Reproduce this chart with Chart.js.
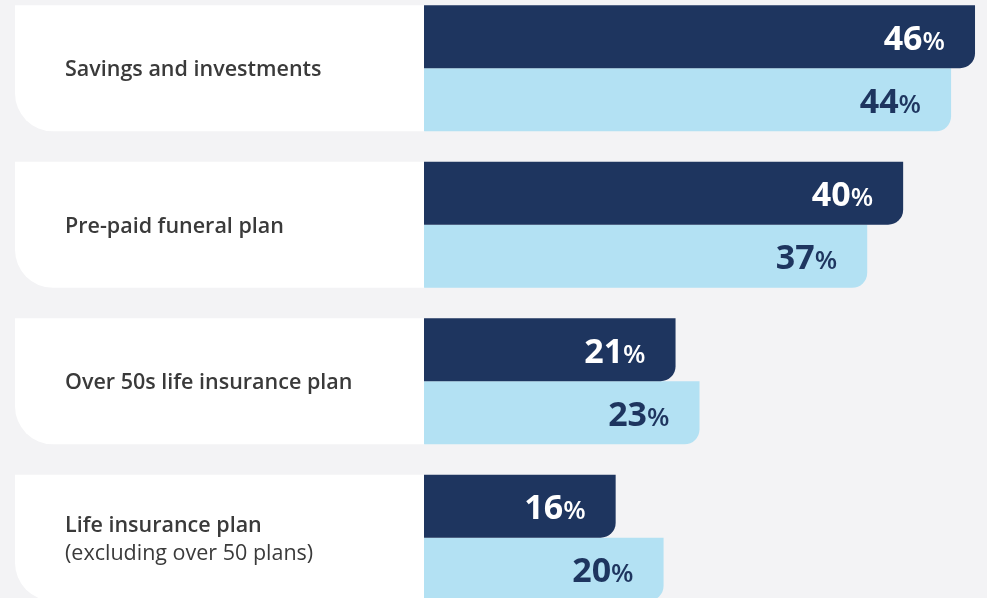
<!DOCTYPE html>
<html>
<head>
<meta charset="utf-8">
<script src="https://cdn.jsdelivr.net/npm/chart.js@4"></script>
<style>
  html, body { margin: 0; padding: 0; background: #f3f3f5; overflow: hidden; }
  #wrap { position: relative; width: 987px; height: 598px; overflow: hidden; }
  #chart { position: absolute; left: 0; top: -10px; }
</style>
</head>
<body>
<div id="wrap"><canvas id="chart" width="987" height="626"></canvas></div>
<script>
// categories (each entry = lines of the label, first line bold)
const categorias = [
    ['Savings and investments'],
    ['Pre-paid funeral plan'],
    ['Over 50s life insurance plan'],
    ['Life insurance plan', '(excluding over 50 plans)']
];
const serieOscura = [46, 40, 21, 16];
const serieClara = [44, 37, 23, 20];

const azulOscuro = '#1e355f';
const azulClaro = '#b3e1f3';

// white cards behind the labels + the label text
const tarjetas = {
    id: 'tarjetas',
    beforeDatasetsDraw(chart) {
        const ctx = chart.ctx;
        const a = chart.getDatasetMeta(0).data;
        const b = chart.getDatasetMeta(1).data;
        ctx.save();
        categorias.forEach((lineas, i) => {
            const top = a[i].y - a[i].height / 2;
            const bottom = b[i].y + b[i].height / 2;
            ctx.fillStyle = '#ffffff';
            ctx.beginPath();
            ctx.roundRect(15, top, chart.chartArea.left - 15 + 1, bottom - top, [0, 0, 0, 38]);
            ctx.fill();

            const centro = (top + bottom) / 2 + 2;
            const alto = 28;
            let y = centro - (lineas.length - 1) * alto / 2;
            ctx.fillStyle = '#3a3a3a';
            ctx.textAlign = 'left';
            ctx.textBaseline = 'middle';
            lineas.forEach((t, j) => {
                ctx.font = (j === 0 ? '600 ' : '') + '21.5px "Open Sans"';
                ctx.fillText(t, 65, y);
                y += alto;
            });
        });
        ctx.restore();
    },
    afterDatasetsDraw(chart) {
        const ctx = chart.ctx;
        ctx.save();
        ctx.textAlign = 'right';
        ctx.textBaseline = 'alphabetic';
        chart.data.datasets.forEach((ds, d) => {
            chart.getDatasetMeta(d).data.forEach((bar, i) => {
                const xd = bar.x - 30;
                const yb = bar.y + 13;
                ctx.fillStyle = d === 0 ? '#ffffff' : azulOscuro;
                ctx.font = '600 26px "Open Sans"';
                const wp = ctx.measureText('%').width;
                ctx.fillText('%', xd, yb);
                ctx.font = 'bold 34px "Open Sans"';
                ctx.fillText(String(ds.data[i]), xd - wp, yb);
            });
        });
        ctx.restore();
    }
};

const ctx = document.getElementById('chart').getContext('2d');
new Chart(ctx, {
    type: 'bar',
    data: {
        labels: categorias.map(c => c.join(' ')),
        datasets: [
            {
                data: serieOscura,
                backgroundColor: azulOscuro,
                borderRadius: { bottomRight: 15 },
                borderSkipped: 'start',
                barPercentage: 1,
                categoryPercentage: 0.806
            },
            {
                data: serieClara,
                backgroundColor: azulClaro,
                borderRadius: { bottomRight: 15 },
                borderSkipped: 'start',
                barPercentage: 1,
                categoryPercentage: 0.806
            }
        ]
    },
    options: {
        indexAxis: 'y',
        responsive: false,
        animation: false,
        layout: { padding: { left: 424, right: 0, top: 0, bottom: 0 } },
        plugins: {
            legend: { display: false },
            tooltip: { enabled: false }
        },
        scales: {
            x: { display: false, min: 0, max: 47 },
            y: { display: false }
        }
    },
    plugins: [tarjetas]
});
</script>
</body>
</html>
